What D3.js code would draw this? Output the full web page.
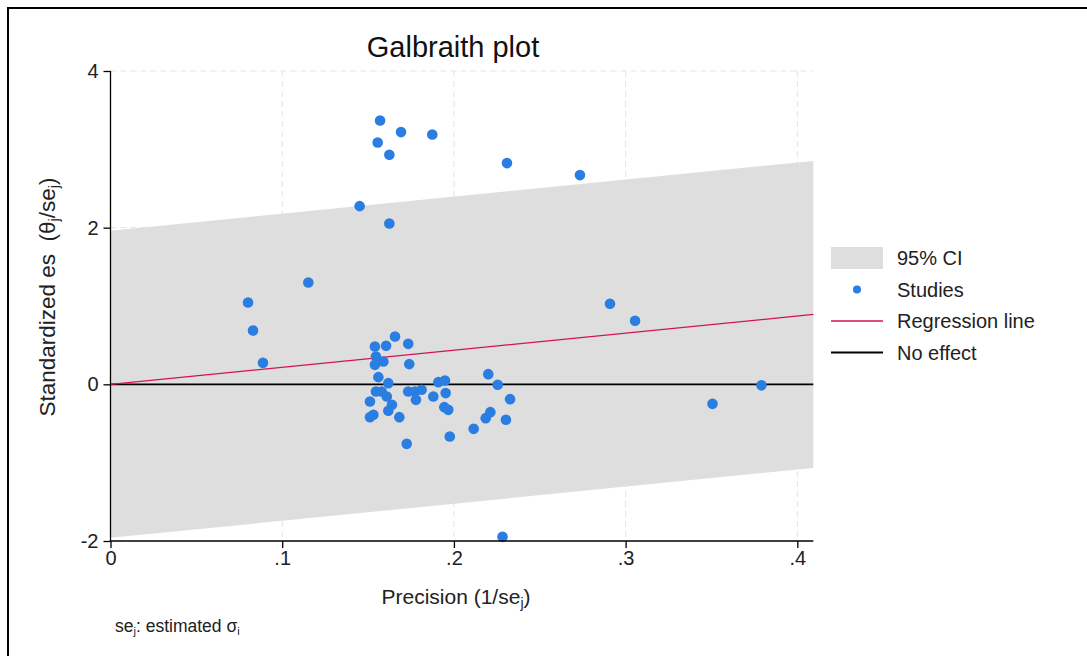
<!DOCTYPE html>
<html>
<head>
<meta charset="utf-8">
<script src="https://cdn.jsdelivr.net/npm/d3@7"></script>
<style>
  html, body { margin: 0; padding: 0; background: #ffffff; }
  svg { display: block; font-family: "Liberation Sans", Arial, Helvetica, sans-serif; }
</style>
</head>
<body>
<svg id="chart" width="1087" height="656"></svg>
<script>
// Study-level precision (1/se) and standardized effect size (theta/se)
const precision = [
  0.1570, 0.1692, 0.1874, 0.1556, 0.1624, 0.2309, 0.2734, 0.1451, 0.1624, 0.1152,
  0.0801, 0.0830, 0.0888, 0.2909, 0.3055, 0.3506, 0.3791, 0.2283,
  0.1657, 0.1540, 0.1605, 0.1734, 0.1546, 0.1589, 0.1540, 0.1740, 0.1560, 0.1618,
  0.1546, 0.1579, 0.1511, 0.1609, 0.1639, 0.1618, 0.1531, 0.1511, 0.1682, 0.1734,
  0.1773, 0.1812, 0.1779, 0.1725, 0.2200, 0.2255, 0.1909, 0.1948, 0.1880, 0.1952,
  0.1944, 0.1967, 0.2327, 0.2212, 0.2185, 0.2303, 0.2115, 0.1976
];
const standardizedEs = [
  3.368, 3.220, 3.189, 3.087, 2.930, 2.824, 2.671, 2.275, 2.053, 1.300,
  1.044, 0.687, 0.274, 1.028, 0.811, -0.249, -0.013, -1.947,
  0.610, 0.483, 0.492, 0.517, 0.355, 0.291, 0.249, 0.258, 0.092, 0.015,
  -0.092, -0.092, -0.220, -0.156, -0.262, -0.338, -0.389, -0.419, -0.419, -0.092,
  -0.092, -0.070, -0.198, -0.760, 0.130, -0.006, 0.028, 0.049, -0.156, -0.112,
  -0.291, -0.326, -0.189, -0.355, -0.432, -0.453, -0.568, -0.666
];

// Regression through the origin and the 95% band around it
const regressionSlope = 2.18;
const ciHalfWidth = 1.96;

const xTicks = [0, 0.1, 0.2, 0.3, 0.4];
const xTickLabels = ["0", ".1", ".2", ".3", ".4"];
const yTicks = [-2, 0, 2, 4];
const yTickLabels = ["-2", "0", "2", "4"];
const xDomain = [0, 0.4093];
const yDomain = [-2, 4];

const legendItems = ["95% CI", "Studies", "Regression line", "No effect"];

const colors = {
  band: "#dedede",
  point: "#2a7de1",
  regression: "#d41159",
  noEffect: "#000000",
  grid: "#e4e4e4"
};

const svg = d3.select("#chart");

// Outer frame of the graph region
svg.append("rect")
  .attr("x", 8).attr("y", 8)
  .attr("width", 1200).attr("height", 800)
  .attr("fill", "none").attr("stroke", "#000").attr("stroke-width", 2);

const plot = { left: 110.5, right: 813.3, top: 71, bottom: 541 };

const x = d3.scaleLinear().domain(xDomain).range([plot.left, plot.right]);
const y = d3.scaleLinear().domain(yDomain).range([plot.bottom, plot.top]);

// Grid lines
const grid = svg.append("g");
grid.selectAll("line.vgrid")
  .data(xTicks.filter(d => d > 0))
  .join("line")
  .attr("x1", d => x(d)).attr("x2", d => x(d))
  .attr("y1", plot.top).attr("y2", plot.bottom)
  .attr("stroke", colors.grid).attr("stroke-width", 1)
  .attr("stroke-dasharray", "6,4");
grid.selectAll("line.hgrid")
  .data(yTicks.filter(d => d > -2))
  .join("line")
  .attr("x1", plot.left).attr("x2", plot.right)
  .attr("y1", d => y(d)).attr("y2", d => y(d))
  .attr("stroke", colors.grid).attr("stroke-width", 1)
  .attr("stroke-dasharray", "6,4");

// Confidence band
const bandArea = d3.area()
  .x(d => x(d))
  .y0(d => y(regressionSlope * d - ciHalfWidth))
  .y1(d => y(regressionSlope * d + ciHalfWidth));
svg.append("path")
  .datum(xDomain)
  .attr("d", bandArea)
  .attr("fill", colors.band);

// No-effect line
svg.append("line")
  .attr("x1", x(xDomain[0])).attr("x2", x(xDomain[1]))
  .attr("y1", y(0)).attr("y2", y(0))
  .attr("stroke", colors.noEffect).attr("stroke-width", 1.8);

// Regression line
const regLine = d3.line()
  .x(d => x(d))
  .y(d => y(regressionSlope * d));
svg.append("path")
  .datum(xDomain)
  .attr("d", regLine)
  .attr("fill", "none")
  .attr("stroke", colors.regression).attr("stroke-width", 1.3);

// Studies
svg.append("g")
  .selectAll("circle")
  .data(precision.map((p, i) => [p, standardizedEs[i]]))
  .join("circle")
  .attr("cx", d => x(d[0]))
  .attr("cy", d => y(d[1]))
  .attr("r", 5.3)
  .attr("fill", colors.point);

// Axes
const xAxis = d3.axisBottom(x)
  .tickValues(xTicks)
  .tickFormat((d, i) => xTickLabels[i])
  .tickSize(7).tickPadding(3);
const gx = svg.append("g")
  .attr("transform", `translate(0,${plot.bottom})`)
  .call(xAxis);
gx.select(".domain").attr("d", `M${plot.left},0H${plot.right}`).attr("stroke-width", 1.3);
gx.selectAll(".tick line").attr("stroke-width", 1.3);
gx.selectAll("text").attr("font-size", 20).attr("fill", "#222").attr("font-family", null);

const yAxis = d3.axisLeft(y)
  .tickValues(yTicks)
  .tickFormat((d, i) => yTickLabels[i])
  .tickSize(7).tickPadding(5);
const gy = svg.append("g")
  .attr("transform", `translate(${plot.left},0)`)
  .call(yAxis);
gy.select(".domain").attr("d", `M0,${plot.bottom}V${plot.top}`).attr("stroke-width", 1.3);
gy.selectAll(".tick line").attr("stroke-width", 1.3);
gy.selectAll("text").attr("font-size", 20).attr("fill", "#222").attr("font-family", null);

// Title
svg.append("text")
  .attr("x", 453).attr("y", 57)
  .attr("text-anchor", "middle")
  .attr("font-size", 29)
  .attr("fill", "#111")
  .text("Galbraith plot");

// Axis titles
const xTitle = svg.append("text")
  .attr("x", 456).attr("y", 604)
  .attr("text-anchor", "middle")
  .attr("font-size", 21)
  .attr("fill", "#222");
xTitle.append("tspan").text("Precision (1/se");
xTitle.append("tspan").attr("font-size", 14).attr("dy", 4).text("j");
xTitle.append("tspan").attr("dy", -4).text(")");

const yTitle = svg.append("text")
  .attr("transform", "translate(55,297) rotate(-90)")
  .attr("text-anchor", "middle")
  .attr("font-size", 22.5)
  .attr("fill", "#222");
yTitle.append("tspan").text("Standardized es\u00a0\u00a0(\u03b8");
yTitle.append("tspan").attr("font-size", 14.5).attr("dy", 4).text("j");
yTitle.append("tspan").attr("dy", -4).text("/se");
yTitle.append("tspan").attr("font-size", 14.5).attr("dy", 4).text("j");
yTitle.append("tspan").attr("dy", -4).text(")");

// Footnote
const note = svg.append("text")
  .attr("x", 115).attr("y", 632)
  .attr("font-size", 17.5)
  .attr("fill", "#222");
note.append("tspan").text("se");
note.append("tspan").attr("font-size", 11).attr("dy", 3).text("j");
note.append("tspan").attr("dy", -3).text(": estimated \u03c3");
note.append("tspan").attr("font-size", 11).attr("dy", 3).text("i");

// Legend
const legend = svg.append("g").attr("transform", "translate(831,258)");
const rowGap = 31.5;
legendItems.forEach((label, i) => {
  const g = legend.append("g").attr("transform", `translate(0,${i * rowGap})`);
  if (i === 0) {
    g.append("rect").attr("x", 0).attr("y", -11).attr("width", 52).attr("height", 22).attr("fill", colors.band);
  } else if (i === 1) {
    g.append("circle").attr("cx", 26).attr("cy", 0).attr("r", 4).attr("fill", colors.point);
  } else if (i === 2) {
    g.append("line").attr("x1", 0).attr("x2", 52).attr("y1", 0).attr("y2", 0)
      .attr("stroke", colors.regression).attr("stroke-width", 1.3);
  } else {
    g.append("line").attr("x1", 0).attr("x2", 52).attr("y1", 0).attr("y2", 0)
      .attr("stroke", colors.noEffect).attr("stroke-width", 1.8);
  }
  g.append("text")
    .attr("x", 66).attr("y", 7)
    .attr("font-size", 20)
    .attr("fill", "#222")
    .text(label);
});
</script>
</body>
</html>
